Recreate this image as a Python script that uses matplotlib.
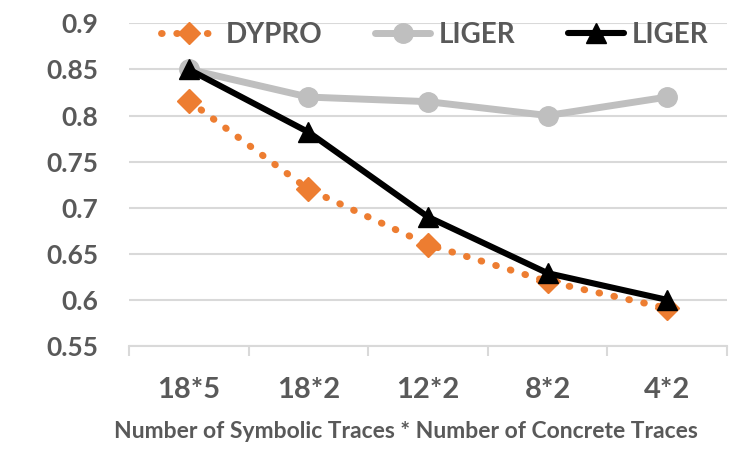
import matplotlib
matplotlib.use("Agg")
import matplotlib.pyplot as plt
from matplotlib.lines import Line2D

categories = ["18*5", "18*2", "12*2", "8*2", "4*2"]
dypro = [0.816, 0.72, 0.66, 0.62, 0.591]
liger_gray = [0.85, 0.82, 0.815, 0.80, 0.82]
liger_black = [0.85, 0.782, 0.69, 0.629, 0.60]
yticks = [0.55, 0.6, 0.65, 0.7, 0.75, 0.8, 0.85, 0.9]
ytick_labels = ["0.55", "0.6", "0.65", "0.7", "0.75", "0.8", "0.85", "0.9"]
xlabel = "Number of Symbolic Traces * Number of Concrete Traces"

FONT = "Lato"
TXT = "#595959"
GRID = "#D9D9D9"
ORANGE = "#ED7D31"
GRAY = "#BFBFBF"

plt.rcParams["font.family"] = [FONT, "DejaVu Sans"]
plt.rcParams["font.weight"] = "bold"

fig = plt.figure(figsize=(7.49, 4.5), dpi=100)
ax = fig.add_axes([129/749, 1-346/450, (727-129)/749, (346-23.3)/450])

x = list(range(len(categories)))

ax.plot(x, liger_gray, color=GRAY, lw=5, marker="o", ms=14, solid_capstyle="round",
        solid_joinstyle="round", zorder=3)
ax.plot(x, liger_black, color="black", lw=4.4, marker="^", ms=14, solid_joinstyle="round",
        zorder=4)
ax.plot(x, dypro, color=ORANGE, lw=5, linestyle=(0, (0.1, 2.1)),
        dash_capstyle="round", zorder=3)
ax.plot(x, dypro, color=ORANGE, lw=0, marker="D", ms=12, zorder=3.5)

ax.set_xlim(-0.5, len(categories) - 0.5)
ax.set_ylim(0.55, 0.9)
ax.set_yticks(yticks)
ax.set_yticklabels(ytick_labels)
ax.set_xticks(x)
ax.set_xticklabels(categories)
ax.set_xticks([i - 0.5 for i in range(len(categories) + 1)], minor=True)

ax.grid(axis="y", color=GRID, lw=1.5, zorder=0)
ax.set_axisbelow(True)
for s in ["top", "right", "left"]:
    ax.spines[s].set_visible(False)
ax.spines["bottom"].set_color(GRID)
ax.spines["bottom"].set_linewidth(1.5)

ax.tick_params(axis="y", length=0, pad=22, labelsize=19, labelcolor=TXT)
ax.tick_params(axis="x", which="major", length=0, pad=22, labelsize=21, labelcolor=TXT)
ax.tick_params(axis="x", which="minor", length=7.5, width=1.5, color=GRID)

fig.text(406/749, 1-431/450, xlabel, ha="center", va="center", fontsize=16.5,
         color=TXT, fontweight="bold")

h1 = Line2D([], [], color=ORANGE, lw=5, linestyle=(0, (0.1, 2.1)), dash_capstyle="round",
            marker="D", ms=11)
h2 = Line2D([], [], color=GRAY, lw=5, marker="o", ms=14, solid_capstyle="round")
h3 = Line2D([], [], color="black", lw=4.4, marker="^", ms=14, solid_capstyle="round")
leg = fig.legend([h1, h2, h3], ["DYPRO", "LIGER", "LIGER"], loc="center",
                 bbox_to_anchor=(435/749, 1-35/450), ncol=3, frameon=False,
                 fontsize=20, handlelength=2.0, handletextpad=0.3, columnspacing=1.9,
                 labelcolor=TXT, borderpad=0)

fig.savefig("out.png", dpi=100)
